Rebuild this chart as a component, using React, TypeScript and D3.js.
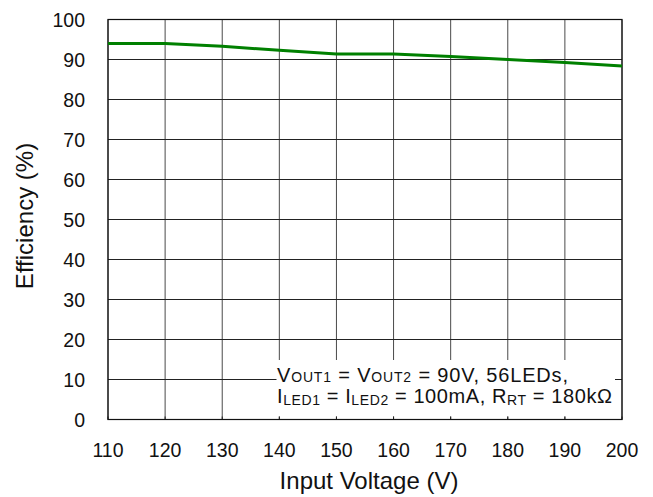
import React from "react";
import * as d3 from "d3";

// Efficiency vs. input voltage
const inputVoltage = [110, 120, 130, 140, 150, 160, 170, 180, 190, 200];
const efficiency = [94.0, 94.0, 93.3, 92.3, 91.4, 91.4, 90.75, 90.0, 89.25, 88.4];
const xTicks = [110, 120, 130, 140, 150, 160, 170, 180, 190, 200];
const yTicks = [0, 10, 20, 30, 40, 50, 60, 70, 80, 90, 100];

const W = 653;
const H = 497;
const left = 108;
const right = 622;
const top = 19.5;
const bottom = 419.5;
const font = "'Liberation Sans', Arial, sans-serif";

export default function App() {
  const x = d3.scaleLinear().domain([110, 200]).range([left, right]);
  const y = d3.scaleLinear().domain([0, 100]).range([bottom, top]);
  const line = d3
    .line<number>()
    .x((_, i) => x(inputVoltage[i]))
    .y((d) => y(d));

  const sub = (t: string, d = 1) => (
    <tspan fontSize={14} dy={d}>
      {t}
    </tspan>
  );
  const back = (t: string, d = -1) => <tspan dy={d}>{t}</tspan>;

  return (
    <svg
      width={W}
      height={H}
      style={{ position: "absolute", left: 0, top: 0, background: "#fff" }}
      fontFamily={font}
    >
      {/* grid */}
      {xTicks.map((t) => (
        <line
          key={"vx" + t}
          x1={x(t)}
          x2={x(t)}
          y1={top}
          y2={bottom}
          stroke="#4a4a4a"
          strokeWidth={1}
        />
      ))}
      {yTicks.map((t) => (
        <line
          key={"hy" + t}
          x1={left}
          x2={right}
          y1={y(t)}
          y2={y(t)}
          stroke="#222"
          strokeWidth={1}
        />
      ))}

      {/* annotation panel */}
      <rect x={276.5} y={360} width={615 - 276.5} height={56.5} fill="#fff" />
      {xTicks.map((t) => (
        <line
          key={"tk" + t}
          x1={x(t)}
          x2={x(t)}
          y1={bottom - 3}
          y2={bottom}
          stroke="#222"
        />
      ))}

      {/* frame */}
      <rect
        x={left}
        y={top}
        width={right - left}
        height={bottom - top}
        fill="none"
        stroke="#111"
        strokeWidth={1.2}
      />

      {/* data */}
      <path
        d={line(efficiency) || ""}
        fill="none"
        stroke="#008000"
        strokeWidth={3}
        strokeLinejoin="round"
      />

      <text
        x={277}
        y={381.5}
        fontSize={20}
        fill="#111"
        textLength={291}
        lengthAdjust="spacing"
      >
        V{sub("OUT1", 0)}
        {back(" = V", 0)}
        {sub("OUT2", 0)}
        {back(" = 90V, 56LEDs,", 0)}
      </text>
      <text
        x={277}
        y={403.3}
        fontSize={20}
        fill="#111"
        textLength={335}
        lengthAdjust="spacing"
      >
        I{sub("LED1", 1.7)}
        {back(" = I", -1.7)}
        {sub("LED2", 1.7)}
        {back(" = 100mA, R", -1.7)}
        {sub("RT", 1.7)}
        {back(" = 180kΩ", -1.7)}
      </text>

      {/* tick labels */}
      {yTicks.map((t) => (
        <text
          key={"yl" + t}
          x={85}
          y={y(t)}
          dy="0.36em"
          textAnchor="end"
          fontSize={19.5}
          fill="#111"
        >
          {t}
        </text>
      ))}
      {xTicks.map((t) => (
        <text
          key={"xl" + t}
          x={x(t)}
          y={457}
          textAnchor="middle"
          fontSize={19.5}
          fill="#111"
        >
          {t}
        </text>
      ))}

      {/* axis titles */}
      <text x={369} y={489} textAnchor="middle" fontSize={24} fill="#111">
        Input Voltage (V)
      </text>
      <text
        transform="translate(33,216) rotate(-90)"
        textAnchor="middle"
        fontSize={24}
        fill="#111"
      >
        Efficiency (%)
      </text>
    </svg>
  );
}
